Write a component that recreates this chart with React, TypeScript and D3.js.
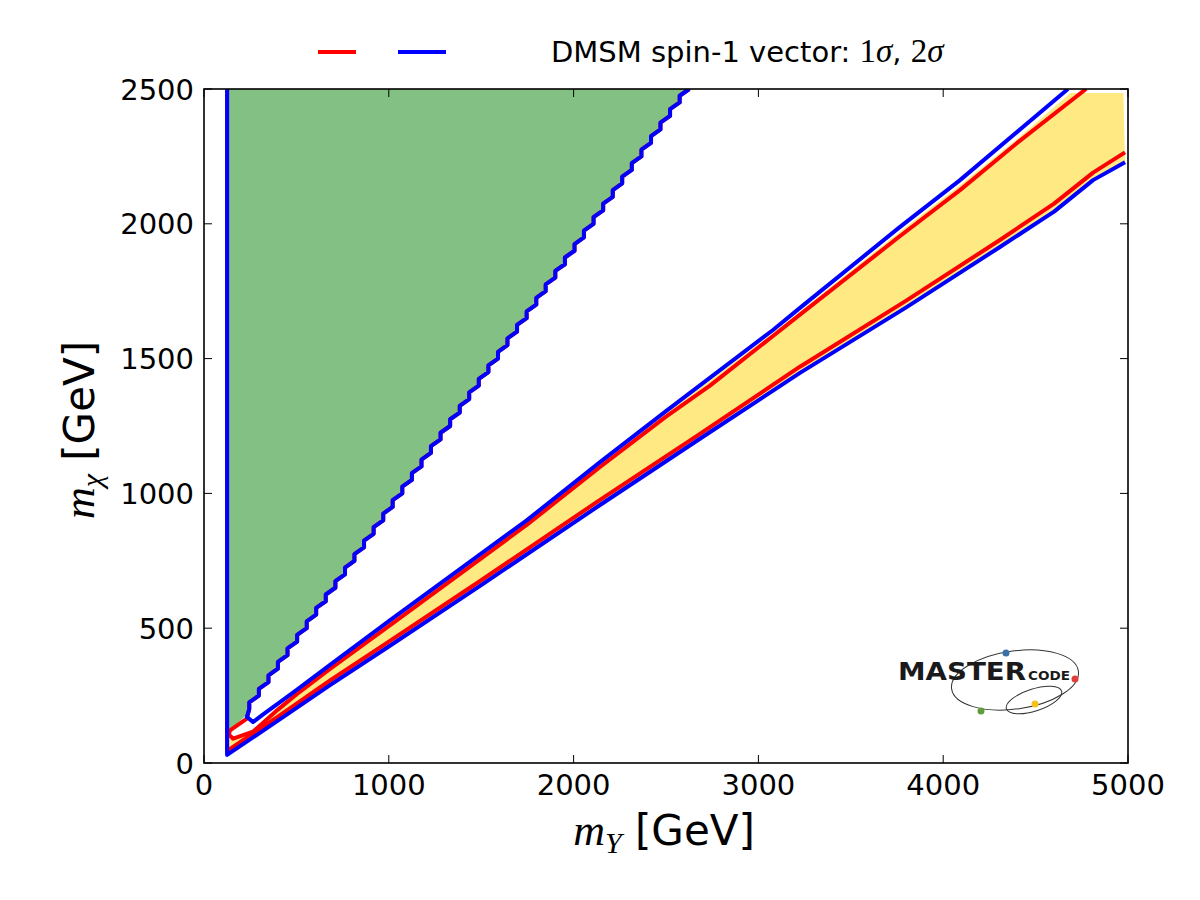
import React from "react";
import * as d3 from "d3";

// ---------------- data (GeV) ----------------
const xTicks = [0, 1000, 2000, 3000, 4000, 5000];
const yTicks = [0, 500, 1000, 1500, 2000, 2500];

// staircase boundary of the green region: m_chi values and the m_Y edge
const stairMChi = [200, 250, 300, 350, 400, 450, 500, 550, 600, 650, 700, 750, 800, 850, 900, 950, 1000, 1050, 1100, 1150, 1200, 1250, 1300, 1350, 1400, 1450, 1500, 1550, 1600, 1650, 1700, 1750, 1800, 1850, 1900, 1950, 2000, 2050, 2100, 2150, 2200, 2250, 2300, 2350, 2400, 2450, 2500];
const stairMY = [245, 297, 349, 400, 452, 504, 556, 607, 659, 711, 763, 814, 866, 918, 970, 1021, 1073, 1125, 1177, 1228, 1280, 1332, 1384, 1435, 1487, 1539, 1591, 1642, 1694, 1746, 1798, 1849, 1901, 1953, 2005, 2056, 2108, 2160, 2212, 2263, 2315, 2367, 2419, 2470, 2522, 2574, 2626];

// 2 sigma (blue) band edges  [mY, mChi]
const blueUpper: [number, number][] = [[265, 152], [320, 180], [400, 220], [500, 270], [682, 364], [1000, 526], [1748, 901], [2143, 1116], [2500, 1305], [3079, 1606], [3225, 1688], [3758, 1984], [4091, 2162], [4675, 2500]];
const blueHook: [number, number][] = [[232, 171]];
const blueLower: [number, number][] = [[125, 2500], [125, 30], [400, 157], [682, 289], [1000, 432], [1500, 660], [2143, 957], [2700, 1210], [3225, 1447], [3800, 1690], [4307, 1914], [4600, 2045], [4811, 2162], [4984, 2228]];

// 1 sigma (red) edges
const redPocket: [number, number][] = [[232, 165], [141, 121], [134, 106], [158, 90]];
const redUpper: [number, number][] = [[265, 116], [400, 198], [500, 254], [682, 349], [1000, 508], [1748, 884], [2143, 1098], [2500, 1285], [2738, 1400], [3079, 1584], [3225, 1663], [3758, 1950], [4091, 2125], [4400, 2300], [4773, 2500]];
const redLower: [number, number][] = [[125, 2500], [125, 45], [400, 172], [682, 306], [1000, 450], [1500, 678], [2143, 976], [2700, 1228], [2738, 1246], [3225, 1470], [3800, 1715], [4307, 1940], [4600, 2075], [4811, 2190], [4984, 2265]];

// yellow (best-fit) region upper edge, from top-right to lower-left
const yellowTop: [number, number][] = [[4975, 2485], [4690, 2485], [4400, 2315], [4091, 2143], [3758, 1967], [3225, 1675], [3079, 1595], [2500, 1295], [2143, 1107], [1748, 892], [1000, 517], [682, 357], [500, 262], [400, 209], [265, 124], [158, 86], [125, 96]];

// green region extra corner points
const greenTopLeft: [number, number] = [125, 2500];
const greenBottom: [number, number][] = [[228, 178], [141, 121], [125, 112]];

const W = 1200, H = 900;
const L = 204, R = 1128, T = 89, B = 763;

export default function App() {
  const x = d3.scaleLinear().domain([0, 5000]).range([L, R]);
  const y = d3.scaleLinear().domain([0, 2500]).range([B, T]);
  const line = d3.line<[number, number]>().x(d => x(d[0])).y(d => y(d[1]));

  // staircase (ascending), vertical then diagonal per step
  const stair: [number, number][] = [];
  stairMChi.forEach((c, i) => {
    stair.push([stairMY[i], c]);
    if (i < stairMChi.length - 1) stair.push([stairMY[i], (c + stairMChi[i + 1]) / 2]);
  });
  const stairDown = stair.slice().reverse();

  const greenPoly: [number, number][] = [greenTopLeft, ...stairDown, ...greenBottom];
  const yellowPoly: [number, number][] = [...blueLower.slice(1), ...yellowTop];

  const blueA = blueLower;
  const blueB: [number, number][] = [...stairDown, ...blueHook, ...blueUpper];
  const redA = redLower;
  const redB: [number, number][] = [...stairDown, ...redPocket, ...redUpper];

  const tickFont = { fontFamily: "DejaVu Sans", fontSize: 29 };
  const serif = "Liberation Serif";

  return (
    <svg width={W} height={H} style={{ display: "block", position: "absolute", left: 0, top: 0 }} xmlns="http://www.w3.org/2000/svg">
      <rect width={W} height={H} fill="#fff" />
      <defs>
        <clipPath id="plotclip">
          <rect x={L} y={T} width={R - L} height={B - T} />
        </clipPath>
      </defs>
      <g clipPath="url(#plotclip)">
        <path d={line(greenPoly) + "Z"} fill="#82c183" stroke="none" />
        <path d={line(yellowPoly) + "Z"} fill="#fee983" stroke="none" />
        <path d={line(redA) || ""} fill="none" stroke="#ff0000" strokeWidth={4} strokeLinejoin="round" />
        <path d={line(redB) || ""} fill="none" stroke="#ff0000" strokeWidth={4} strokeLinejoin="round" />
        <path d={line(blueA) || ""} fill="none" stroke="#0000ff" strokeWidth={4} strokeLinejoin="round" />
        <path d={line(blueB) || ""} fill="none" stroke="#0000ff" strokeWidth={4} strokeLinejoin="round" />
      </g>

      {/* logo */}
      <g>
        <ellipse cx={1015} cy={680} rx={64} ry={29} transform="rotate(-8 1015 680)" fill="none" stroke="#333" strokeWidth={1} />
        <ellipse cx={1034} cy={700} rx={29} ry={11} transform="rotate(-18 1034 700)" fill="none" stroke="#333" strokeWidth={1} />
        <text x={898} y={680} fontFamily="DejaVu Sans" fontWeight="bold" fontSize={24} fill="#1a1a1a" textLength={128} lengthAdjust="spacingAndGlyphs">MASTER</text>
        <text x={1028} y={680} fontFamily="DejaVu Sans" fontWeight="bold" fontSize={13} fill="#1a1a1a" textLength={42} lengthAdjust="spacingAndGlyphs">CODE</text>
        <circle cx={1006} cy={653} r={3.5} fill="#3a6fa8" />
        <circle cx={1075} cy={679} r={3.5} fill="#d9413a" />
        <circle cx={1035} cy={704} r={3.5} fill="#f2c21a" />
        <circle cx={981} cy={711} r={3.5} fill="#5f9c3a" />
      </g>

      {/* frame */}
      <rect x={L} y={T} width={R - L} height={B - T} fill="none" stroke="#000" strokeWidth={1.6} />

      {/* ticks */}
      {xTicks.map(t => (
        <g key={"x" + t}>
          <line x1={x(t)} x2={x(t)} y1={B} y2={B - 8} stroke="#000" strokeWidth={1} />
          <line x1={x(t)} x2={x(t)} y1={T} y2={T + 8} stroke="#000" strokeWidth={1} />
          <text x={x(t)} y={795} textAnchor="middle" {...tickFont}>{t}</text>
        </g>
      ))}
      {yTicks.map(t => (
        <g key={"y" + t}>
          <line x1={L} x2={L + 8} y1={y(t)} y2={y(t)} stroke="#000" strokeWidth={1} />
          <line x1={R} x2={R - 8} y1={y(t)} y2={y(t)} stroke="#000" strokeWidth={1} />
          <text x={194} y={y(t) + 10.5} textAnchor="end" {...tickFont}>{t}</text>
        </g>
      ))}

      {/* axis labels */}
      <text x={664} y={845} textAnchor="middle">
        <tspan fontFamily={serif} fontStyle="italic" fontSize={44}>m</tspan>
        <tspan fontFamily={serif} fontStyle="italic" fontSize={30} dy={8}>Y</tspan>
        <tspan fontFamily="DejaVu Sans" fontSize={42} dy={-8}> [GeV]</tspan>
      </text>
      <text transform="translate(94,430) rotate(-90)" textAnchor="middle">
        <tspan fontFamily={serif} fontStyle="italic" fontSize={44}>m</tspan>
        <tspan fontFamily={serif} fontStyle="italic" fontSize={30} dy={8}>χ</tspan>
        <tspan fontFamily="DejaVu Sans" fontSize={42} dy={-8}> [GeV]</tspan>
      </text>

      {/* legend */}
      <line x1={318} x2={356} y1={52} y2={52} stroke="#ff0000" strokeWidth={4} />
      <line x1={398} x2={446} y1={52} y2={52} stroke="#0000ff" strokeWidth={4} />
      <text x={551} y={62}>
        <tspan fontFamily="DejaVu Sans" fontSize={29}>DMSM spin-1 vector: </tspan>
        <tspan fontFamily={serif} fontSize={33}>1</tspan>
        <tspan fontFamily={serif} fontStyle="italic" fontSize={33}>σ</tspan>
        <tspan fontFamily="DejaVu Sans" fontSize={29}>, </tspan>
        <tspan fontFamily={serif} fontSize={33}>2</tspan>
        <tspan fontFamily={serif} fontStyle="italic" fontSize={33}>σ</tspan>
      </text>
    </svg>
  );
}
